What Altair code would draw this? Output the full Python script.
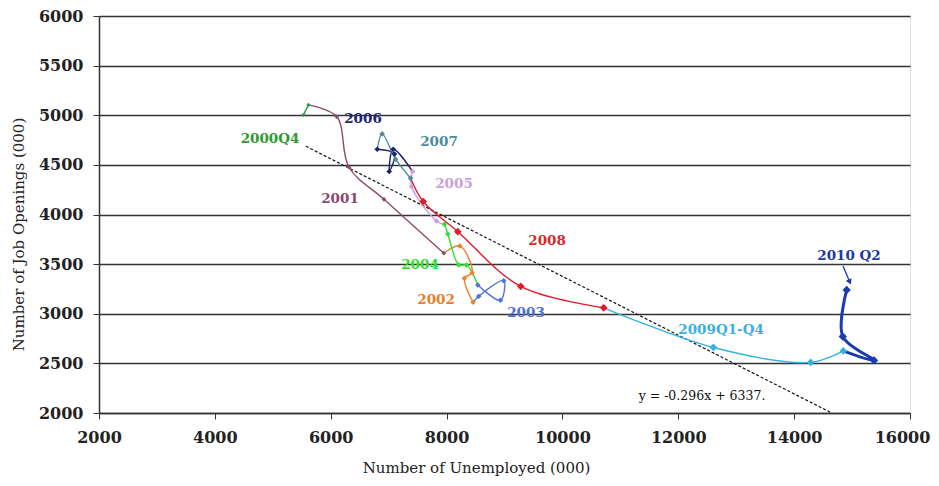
import altair as alt
import pandas as pd

# ---- data ----
years = ["2000", "2001", "2002", "2003", "2004", "2005", "2006", "2007", "2008", "2009", "2010"]
unemp = {
    "2000": [5530, 5615],
    "2001": [6103, 6316, 6919, 7953],
    "2002": [8229, 8441, 8309, 8458],
    "2003": [8556, 8987, 8930, 8539],
    "2004": [8344, 8212, 8022, 7965],
    "2005": [7827, 7396, 7413],
    "2006": [7079, 7010, 7100, 6803],
    "2007": [6888, 7120, 7379],
    "2008": [7597, 8194, 9280, 10713],
    "2009": [12607, 14286, 14849],
    "2010": [15380, 14840, 14907],
}
openings = {
    "2000": [5004, 5104],
    "2001": [4987, 4476, 4153, 3610],
    "2002": [3683, 3414, 3357, 3116],
    "2003": [3176, 3333, 3136, 3290],
    "2004": [3492, 3492, 3804, 3902],
    "2005": [3935, 4282, 4433],
    "2006": [4657, 4433, 4610, 4657],
    "2007": [4812, 4557, 4366],
    "2008": [4131, 3827, 3276, 3060],
    "2009": [2660, 2510, 2625],
    "2010": [2530, 2770, 3240],
}
trend_x = [5570, 14650]
trend_y = [4688, 2000]

label_text = ["2000Q4", "2006", "2007", "2005", "2001", "2008", "2004", "2002", "2003", "2009Q1-Q4", "2010 Q2"]
label_year = ["2000", "2006", "2007", "2005", "2001", "2008", "2004", "2002", "2003", "2009", "2010"]
label_x = [4952, 6557, 7869, 8128, 6160, 9734, 7541, 7818, 9371, 12738, 14947]
label_y = [4761, 4962, 4731, 4307, 4156, 3733, 3491, 3139, 3008, 2836, 3582]

eq_text = ["y = -0.296x + 6337."]
eq_x = [12410]
eq_y = [2171]

arrow_x = [14844, 14960]
arrow_y = [3481, 3320]

# ---- styles ----
colors = ["#2f9a4a", "#8b4a6e", "#ee8026", "#5072d6", "#33dd33", "#c8a0e2",
          "#1c2370", "#4d8c99", "#e01b2a", "#35b3e0", "#1a3cae"]
label_colors = ["#2f9a2f", "#1f2470", "#4d8c99", "#c8a0e0", "#8b4a6e", "#d42a2a",
                "#33dd33", "#e8802a", "#5070d0", "#3ab0e0", "#1f3aa0"]
point_size = {"2000": 18, "2001": 22, "2002": 30, "2003": 30, "2004": 30, "2005": 30,
              "2006": 32, "2007": 32, "2008": 60, "2009": 60, "2010": 70}

# ---- tables ----
seg_rows = []
pt_rows = []
prev = None
for y in years:
    pts = list(zip(unemp[y], openings[y]))
    seq = ([prev] if prev is not None else []) + pts
    for k, (u, o) in enumerate(seq):
        seg_rows.append({"year": y, "k": k, "u": u, "o": o})
    for u, o in pts:
        pt_rows.append({"year": y, "u": u, "o": o, "s": point_size[y]})
    prev = pts[-1]
seg_df = pd.DataFrame(seg_rows)
pt_df = pd.DataFrame(pt_rows)
trend_df = pd.DataFrame({"u": trend_x, "o": trend_y})
lab_df = pd.DataFrame({"t": label_text, "year": label_year, "u": label_x, "o": label_y})
eq_df = pd.DataFrame({"t": eq_text, "u": eq_x, "o": eq_y})
arrow_df = pd.DataFrame({"u": [arrow_x[0]], "o": [arrow_y[0]], "u2": [arrow_x[1]], "o2": [arrow_y[1]]})
head_df = pd.DataFrame({"u": [arrow_x[1]], "o": [arrow_y[1]]})

serif = "DejaVu Serif"

xscale = alt.Scale(domain=[2000, 16000], nice=False, zero=False)
yscale = alt.Scale(domain=[2000, 6000], nice=False, zero=False)
cscale = alt.Scale(domain=years, range=colors)
lscale = alt.Scale(domain=label_year, range=label_colors)

xaxis = alt.Axis(values=list(range(2000, 16001, 2000)), grid=False, title="Number of Unemployed (000)",
                 format="d",
                 labelFont=serif, labelFontWeight="bold", labelFontSize=16, labelColor="#222",
                 labelOffset={"condition": {"test": "datum.value == 16000", "value": -8}, "value": 0},
                 labelPadding=10, tickSize=6, tickColor="#333", domainColor="#333", domainWidth=1.5,
                 titleFont=serif, titleFontWeight="normal", titleFontSize=15, titleColor="#222",
                 titleX=377, titleY=47, titleBaseline="top", titleAlign="center", labelFlush=False)
yaxis = alt.Axis(values=list(range(2000, 6001, 500)), grid=True, gridColor="#333", gridWidth=1.5,
                 title="Number of Job Openings (000)", format="d",
                 labelFont=serif, labelFontWeight="bold", labelFontSize=16, labelColor="#222",
                 labelPadding=10, tickSize=6, tickColor="#333", domainColor="#333", domainWidth=1.5,
                 titleFont=serif, titleFontWeight="normal", titleFontSize=15, titleColor="#222",
                 titleX=-81, titleY=218, titleAngle=270, titleBaseline="middle", titleAlign="center")

base_x = alt.X("u:Q", scale=xscale, axis=xaxis)
base_y = alt.Y("o:Q", scale=yscale, axis=yaxis)

lines = alt.Chart(seg_df).transform_filter(alt.datum.year != "2010").mark_line(
    interpolate="catmull-rom", strokeWidth=1.4
).encode(
    x=base_x, y=base_y,
    color=alt.Color("year:N", scale=cscale, legend=None),
    detail="year:N", order="k:Q",
)
lines2010 = alt.Chart(seg_df).transform_filter(alt.datum.year == "2010").mark_line(
    interpolate="catmull-rom", strokeWidth=3
).encode(
    x=alt.X("u:Q", scale=xscale), y=alt.Y("o:Q", scale=yscale),
    color=alt.Color("year:N", scale=cscale, legend=None),
    order="k:Q",
)
points = alt.Chart(pt_df).mark_point(shape="diamond", filled=True, opacity=1).encode(
    x=alt.X("u:Q", scale=xscale), y=alt.Y("o:Q", scale=yscale),
    color=alt.Color("year:N", scale=cscale, legend=None),
    size=alt.Size("s:Q", scale=None, legend=None),
)
trend = alt.Chart(trend_df).mark_line(color="#111", strokeWidth=1.2, strokeDash=[3, 2]).encode(
    x=alt.X("u:Q", scale=xscale), y=alt.Y("o:Q", scale=yscale),
)
labels = alt.Chart(lab_df).mark_text(font=serif, fontWeight="bold", fontSize=13.5).encode(
    x=alt.X("u:Q", scale=xscale), y=alt.Y("o:Q", scale=yscale), text="t:N",
    color=alt.Color("year:N", scale=lscale, legend=None),
)
eq = alt.Chart(eq_df).mark_text(font=serif, fontSize=12.5, color="#111").encode(
    x=alt.X("u:Q", scale=xscale), y=alt.Y("o:Q", scale=yscale), text="t:N",
)
arrow = alt.Chart(arrow_df).mark_rule(color="#1f3aa0", strokeWidth=1.3).encode(
    x=alt.X("u:Q", scale=xscale), y=alt.Y("o:Q", scale=yscale), x2="u2:Q", y2="o2:Q",
)
head = alt.Chart(head_df).mark_point(shape="triangle-down", filled=True, size=40, color="#1f3aa0",
                                      angle=336, opacity=1).encode(
    x=alt.X("u:Q", scale=xscale), y=alt.Y("o:Q", scale=yscale),
)

chart = alt.layer(trend, lines, lines2010, points, labels, eq, arrow, head).resolve_scale(
    color="independent"
).properties(
    width=811, height=397,
    autosize=alt.AutoSizeParams(type="none"),
    padding={"left": 91, "top": 8, "right": 21, "bottom": 65},
).configure_view(stroke=None).configure(background="white")

chart.save("out.html", embed_options={"renderer": "svg", "actions": False})
